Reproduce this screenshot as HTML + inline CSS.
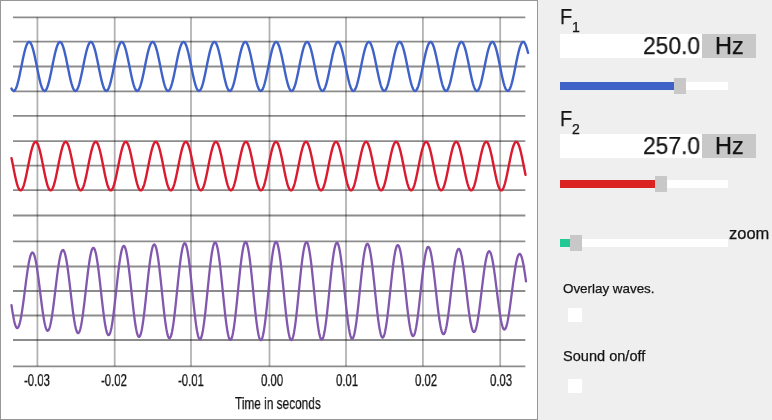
<!DOCTYPE html>
<html><head><meta charset="utf-8">
<style>
html,body{margin:0;padding:0;}
body{width:772px;height:420px;background:#efefef;position:relative;overflow:hidden;font-family:"Liberation Sans",sans-serif;color:#141414;}
#chart{position:absolute;left:0;top:0;width:536px;height:418px;background:#fff;border:1px solid #979797;}
svg{position:absolute;left:0;top:0;}
.t{position:absolute;white-space:nowrap;transform-origin:0 0;will-change:transform;-webkit-text-stroke:0.25px #141414;}
.tl{top:372px;font-size:16px;line-height:18px;transform:scaleX(0.71);}
.inp{position:absolute;left:560px;width:142px;height:24px;background:#fff;}
.hz{position:absolute;left:702px;width:54px;height:24px;background:#c8c8c8;}
.trk{position:absolute;left:560px;width:168px;height:8px;background:#fff;}
.fill{position:absolute;left:0;top:0;height:8px;}
.thumb{position:absolute;width:12px;height:16px;top:-4px;background:#c8c8c8;}
.cb{position:absolute;left:568px;width:14px;height:14px;background:#fff;}
#wrap{position:absolute;left:0;top:0;width:772px;height:420px;filter:blur(0.35px);}
</style></head><body><div id="wrap">
<div id="chart"></div>
<svg width="538" height="420" viewBox="0 0 538 420">
<g stroke="rgba(0,0,0,0.3)" stroke-width="1.8" fill="none"><line x1="37.40" y1="17.3" x2="37.40" y2="366.3"/><line x1="114.70" y1="17.3" x2="114.70" y2="366.3"/><line x1="191.00" y1="17.3" x2="191.00" y2="366.3"/><line x1="269.50" y1="17.3" x2="269.50" y2="366.3"/><line x1="346.00" y1="17.3" x2="346.00" y2="366.3"/><line x1="422.90" y1="17.3" x2="422.90" y2="366.3"/><line x1="500.20" y1="17.3" x2="500.20" y2="366.3"/></g><g stroke="rgba(0,0,0,0.45)" stroke-width="1.8" fill="none"><line x1="13" y1="17.30" x2="525.3" y2="17.30"/><line x1="13" y1="41.70" x2="525.3" y2="41.70"/><line x1="13" y1="66.50" x2="525.3" y2="66.50"/><line x1="13" y1="91.30" x2="525.3" y2="91.30"/><line x1="13" y1="115.90" x2="525.3" y2="115.90"/><line x1="13" y1="141.20" x2="525.3" y2="141.20"/><line x1="13" y1="165.70" x2="525.3" y2="165.70"/><line x1="13" y1="190.20" x2="525.3" y2="190.20"/><line x1="13" y1="215.50" x2="525.3" y2="215.50"/><line x1="13" y1="241.40" x2="525.3" y2="241.40"/><line x1="13" y1="266.50" x2="525.3" y2="266.50"/><line x1="13" y1="291.00" x2="525.3" y2="291.00"/><line x1="13" y1="315.50" x2="525.3" y2="315.50"/><line x1="13" y1="340.00" x2="525.3" y2="340.00"/><line x1="13" y1="366.30" x2="525.3" y2="366.30"/></g>
<path d="M11.5,88.60 L12.0,89.55 L12.5,90.26 L13.0,90.72 L13.5,90.94 L14.0,90.89 L14.5,90.60 L15.0,90.06 L15.5,89.27 L16.0,88.25 L16.5,87.00 L17.0,85.54 L17.5,83.88 L18.0,82.04 L18.5,80.04 L19.0,77.90 L19.5,75.64 L20.0,73.29 L20.5,70.86 L21.0,68.39 L21.5,65.90 L22.0,63.42 L22.5,60.96 L23.0,58.57 L23.5,56.25 L24.0,54.04 L24.5,51.96 L25.0,50.03 L25.5,48.27 L26.0,46.69 L26.5,45.32 L27.0,44.17 L27.5,43.25 L28.0,42.57 L28.5,42.14 L29.0,41.96 L29.5,42.03 L30.0,42.35 L30.5,42.92 L31.0,43.74 L31.5,44.79 L32.0,46.07 L32.5,47.55 L33.0,49.23 L33.5,51.09 L34.0,53.11 L34.5,55.27 L35.0,57.54 L35.5,59.90 L36.0,62.33 L36.5,64.81 L37.0,67.30 L37.5,69.78 L38.0,72.23 L38.5,74.62 L39.0,76.92 L39.5,79.11 L40.0,81.18 L40.5,83.09 L41.0,84.83 L41.5,86.38 L42.0,87.73 L42.5,88.85 L43.0,89.74 L43.5,90.39 L44.0,90.80 L44.5,90.95 L45.0,90.85 L45.5,90.49 L46.0,89.89 L46.5,89.05 L47.0,87.97 L47.5,86.67 L48.0,85.16 L48.5,83.45 L49.0,81.57 L49.5,79.54 L50.0,77.37 L50.5,75.08 L51.0,72.71 L51.5,70.27 L52.0,67.80 L52.5,65.30 L53.0,62.82 L53.5,60.38 L54.0,58.00 L54.5,55.71 L55.0,53.53 L55.5,51.48 L56.0,49.59 L56.5,47.87 L57.0,46.35 L57.5,45.03 L58.0,43.93 L58.5,43.07 L59.0,42.45 L59.5,42.07 L60.0,41.95 L60.5,42.08 L61.0,42.47 L61.5,43.10 L62.0,43.97 L62.5,45.08 L63.0,46.40 L63.5,47.94 L64.0,49.66 L64.5,51.56 L65.0,53.61 L65.5,55.80 L66.0,58.10 L66.5,60.48 L67.0,62.92 L67.5,65.40 L68.0,67.89 L68.5,70.37 L69.0,72.81 L69.5,75.18 L70.0,77.46 L70.5,79.62 L71.0,81.65 L71.5,83.53 L72.0,85.22 L72.5,86.72 L73.0,88.02 L73.5,89.09 L74.0,89.92 L74.5,90.51 L75.0,90.86 L75.5,90.95 L76.0,90.79 L76.5,90.37 L77.0,89.71 L77.5,88.81 L78.0,87.68 L78.5,86.32 L79.0,84.77 L79.5,83.02 L80.0,81.10 L80.5,79.03 L81.0,76.83 L81.5,74.52 L82.0,72.13 L82.5,69.68 L83.0,67.20 L83.5,64.71 L84.0,62.23 L84.5,59.80 L85.0,57.44 L85.5,55.18 L86.0,53.03 L86.5,51.01 L87.0,49.16 L87.5,47.49 L88.0,46.01 L88.5,44.74 L89.0,43.70 L89.5,42.90 L90.0,42.33 L90.5,42.02 L91.0,41.96 L91.5,42.15 L92.0,42.59 L92.5,43.29 L93.0,44.22 L93.5,45.38 L94.0,46.75 L94.5,48.33 L95.0,50.10 L95.5,52.04 L96.0,54.13 L96.5,56.34 L97.0,58.66 L97.5,61.06 L98.0,63.52 L98.5,66.00 L99.0,68.49 L99.5,70.96 L100.0,73.38 L100.5,75.73 L101.0,77.99 L101.5,80.12 L102.0,82.12 L102.5,83.95 L103.0,85.60 L103.5,87.05 L104.0,88.29 L104.5,89.31 L105.0,90.08 L105.5,90.62 L106.0,90.90 L106.5,90.93 L107.0,90.71 L107.5,90.24 L108.0,89.52 L108.5,88.56 L109.0,87.37 L109.5,85.97 L110.0,84.36 L110.5,82.57 L111.0,80.62 L111.5,78.51 L112.0,76.28 L112.5,73.95 L113.0,71.55 L113.5,69.09 L114.0,66.60 L114.5,64.11 L115.0,61.65 L115.5,59.23 L116.0,56.89 L116.5,54.65 L117.0,52.53 L117.5,50.55 L118.0,48.74 L118.5,47.11 L119.0,45.69 L119.5,44.47 L120.0,43.49 L120.5,42.74 L121.0,42.23 L121.5,41.98 L122.0,41.98 L122.5,42.23 L123.0,42.74 L123.5,43.49 L124.0,44.47 L124.5,45.69 L125.0,47.11 L125.5,48.74 L126.0,50.55 L126.5,52.53 L127.0,54.65 L127.5,56.89 L128.0,59.23 L128.5,61.65 L129.0,64.11 L129.5,66.60 L130.0,69.09 L130.5,71.55 L131.0,73.95 L131.5,76.28 L132.0,78.51 L132.5,80.62 L133.0,82.57 L133.5,84.36 L134.0,85.97 L134.5,87.37 L135.0,88.56 L135.5,89.52 L136.0,90.24 L136.5,90.71 L137.0,90.93 L137.5,90.90 L138.0,90.62 L138.5,90.08 L139.0,89.31 L139.5,88.29 L140.0,87.05 L140.5,85.60 L141.0,83.95 L141.5,82.12 L142.0,80.12 L142.5,77.99 L143.0,75.73 L143.5,73.38 L144.0,70.96 L144.5,68.49 L145.0,66.00 L145.5,63.52 L146.0,61.06 L146.5,58.66 L147.0,56.34 L147.5,54.13 L148.0,52.04 L148.5,50.10 L149.0,48.33 L149.5,46.75 L150.0,45.38 L150.5,44.22 L151.0,43.29 L151.5,42.59 L152.0,42.15 L152.5,41.96 L153.0,42.02 L153.5,42.33 L154.0,42.90 L154.5,43.70 L155.0,44.74 L155.5,46.01 L156.0,47.49 L156.5,49.16 L157.0,51.01 L157.5,53.03 L158.0,55.18 L158.5,57.44 L159.0,59.80 L159.5,62.23 L160.0,64.71 L160.5,67.20 L161.0,69.68 L161.5,72.13 L162.0,74.52 L162.5,76.83 L163.0,79.03 L163.5,81.10 L164.0,83.02 L164.5,84.77 L165.0,86.32 L165.5,87.68 L166.0,88.81 L166.5,89.71 L167.0,90.37 L167.5,90.79 L168.0,90.95 L168.5,90.86 L169.0,90.51 L169.5,89.92 L170.0,89.09 L170.5,88.02 L171.0,86.72 L171.5,85.22 L172.0,83.53 L172.5,81.65 L173.0,79.62 L173.5,77.46 L174.0,75.18 L174.5,72.81 L175.0,70.37 L175.5,67.89 L176.0,65.40 L176.5,62.92 L177.0,60.48 L177.5,58.10 L178.0,55.80 L178.5,53.61 L179.0,51.56 L179.5,49.66 L180.0,47.94 L180.5,46.40 L181.0,45.08 L181.5,43.97 L182.0,43.10 L182.5,42.47 L183.0,42.08 L183.5,41.95 L184.0,42.07 L184.5,42.45 L185.0,43.07 L185.5,43.93 L186.0,45.03 L186.5,46.35 L187.0,47.87 L187.5,49.59 L188.0,51.48 L188.5,53.53 L189.0,55.71 L189.5,58.00 L190.0,60.38 L190.5,62.82 L191.0,65.30 L191.5,67.80 L192.0,70.27 L192.5,72.71 L193.0,75.08 L193.5,77.37 L194.0,79.54 L194.5,81.57 L195.0,83.45 L195.5,85.16 L196.0,86.67 L196.5,87.97 L197.0,89.05 L197.5,89.89 L198.0,90.49 L198.5,90.85 L199.0,90.95 L199.5,90.80 L200.0,90.39 L200.5,89.74 L201.0,88.85 L201.5,87.73 L202.0,86.38 L202.5,84.83 L203.0,83.09 L203.5,81.18 L204.0,79.11 L204.5,76.92 L205.0,74.62 L205.5,72.23 L206.0,69.78 L206.5,67.30 L207.0,64.81 L207.5,62.33 L208.0,59.90 L208.5,57.54 L209.0,55.27 L209.5,53.11 L210.0,51.09 L210.5,49.23 L211.0,47.55 L211.5,46.07 L212.0,44.79 L212.5,43.74 L213.0,42.92 L213.5,42.35 L214.0,42.03 L214.5,41.96 L215.0,42.14 L215.5,42.57 L216.0,43.25 L216.5,44.17 L217.0,45.32 L217.5,46.69 L218.0,48.27 L218.5,50.03 L219.0,51.96 L219.5,54.04 L220.0,56.25 L220.5,58.57 L221.0,60.96 L221.5,63.42 L222.0,65.90 L222.5,68.39 L223.0,70.86 L223.5,73.29 L224.0,75.64 L224.5,77.90 L225.0,80.04 L225.5,82.04 L226.0,83.88 L226.5,85.54 L227.0,87.00 L227.5,88.25 L228.0,89.27 L228.5,90.06 L229.0,90.60 L229.5,90.89 L230.0,90.94 L230.5,90.72 L231.0,90.26 L231.5,89.55 L232.0,88.60 L232.5,87.42 L233.0,86.03 L233.5,84.43 L234.0,82.65 L234.5,80.70 L235.0,78.60 L235.5,76.38 L236.0,74.05 L236.5,71.64 L237.0,69.19 L237.5,66.70 L238.0,64.21 L238.5,61.74 L239.0,59.33 L239.5,56.98 L240.0,54.74 L240.5,52.61 L241.0,50.63 L241.5,48.81 L242.0,47.18 L242.5,45.74 L243.0,44.52 L243.5,43.52 L244.0,42.76 L244.5,42.25 L245.0,41.99 L245.5,41.98 L246.0,42.22 L246.5,42.71 L247.0,43.45 L247.5,44.43 L248.0,45.63 L248.5,47.05 L249.0,48.67 L249.5,50.48 L250.0,52.45 L250.5,54.56 L251.0,56.80 L251.5,59.14 L252.0,61.55 L252.5,64.01 L253.0,66.50 L253.5,68.99 L254.0,71.45 L254.5,73.86 L255.0,76.19 L255.5,78.43 L256.0,80.53 L256.5,82.50 L257.0,84.29 L257.5,85.91 L258.0,87.32 L258.5,88.51 L259.0,89.48 L259.5,90.21 L260.0,90.69 L260.5,90.93 L261.0,90.91 L261.5,90.63 L262.0,90.11 L262.5,89.34 L263.0,88.34 L263.5,87.11 L264.0,85.66 L264.5,84.02 L265.0,82.19 L265.5,80.21 L266.0,78.08 L266.5,75.83 L267.0,73.48 L267.5,71.06 L268.0,68.59 L268.5,66.10 L269.0,63.61 L269.5,61.16 L270.0,58.76 L270.5,56.43 L271.0,54.21 L271.5,52.12 L272.0,50.18 L272.5,48.40 L273.0,46.81 L273.5,45.43 L274.0,44.26 L274.5,43.32 L275.0,42.62 L275.5,42.16 L276.0,41.96 L276.5,42.01 L277.0,42.32 L277.5,42.87 L278.0,43.67 L278.5,44.70 L279.0,45.96 L279.5,47.42 L280.0,49.09 L280.5,50.94 L281.0,52.94 L281.5,55.09 L282.0,57.35 L282.5,59.71 L283.0,62.14 L283.5,64.61 L284.0,67.10 L284.5,69.58 L285.0,72.03 L285.5,74.43 L286.0,76.74 L286.5,78.94 L287.0,81.02 L287.5,82.94 L288.0,84.70 L288.5,86.27 L289.0,87.63 L289.5,88.77 L290.0,89.68 L290.5,90.35 L291.0,90.77 L291.5,90.95 L292.0,90.86 L292.5,90.53 L293.0,89.95 L293.5,89.12 L294.0,88.06 L294.5,86.78 L295.0,85.29 L295.5,83.60 L296.0,81.73 L296.5,79.71 L297.0,77.55 L297.5,75.27 L298.0,72.90 L298.5,70.47 L299.0,67.99 L299.5,65.50 L300.0,63.02 L300.5,60.58 L301.0,58.19 L301.5,55.89 L302.0,53.70 L302.5,51.64 L303.0,49.74 L303.5,48.00 L304.0,46.46 L304.5,45.13 L305.0,44.01 L305.5,43.13 L306.0,42.49 L306.5,42.09 L307.0,41.95 L307.5,42.06 L308.0,42.43 L308.5,43.04 L309.0,43.89 L309.5,44.98 L310.0,46.29 L310.5,47.81 L311.0,49.52 L311.5,51.40 L312.0,53.45 L312.5,55.62 L313.0,57.91 L313.5,60.29 L314.0,62.73 L314.5,65.20 L315.0,67.70 L315.5,70.17 L316.0,72.61 L316.5,74.99 L317.0,77.28 L317.5,79.45 L318.0,81.50 L318.5,83.38 L319.0,85.09 L319.5,86.61 L320.0,87.92 L320.5,89.01 L321.0,89.86 L321.5,90.47 L322.0,90.84 L322.5,90.95 L323.0,90.81 L323.5,90.41 L324.0,89.77 L324.5,88.89 L325.0,87.77 L325.5,86.44 L326.0,84.90 L326.5,83.16 L327.0,81.26 L327.5,79.20 L328.0,77.01 L328.5,74.71 L329.0,72.32 L329.5,69.88 L330.0,67.40 L330.5,64.91 L331.0,62.43 L331.5,60.00 L332.0,57.63 L332.5,55.35 L333.0,53.19 L333.5,51.17 L334.0,49.30 L334.5,47.61 L335.0,46.12 L335.5,44.84 L336.0,43.78 L336.5,42.95 L337.0,42.37 L337.5,42.04 L338.0,41.95 L338.5,42.13 L339.0,42.55 L339.5,43.22 L340.0,44.13 L340.5,45.27 L341.0,46.63 L341.5,48.20 L342.0,49.96 L342.5,51.88 L343.0,53.96 L343.5,56.16 L344.0,58.47 L344.5,60.87 L345.0,63.32 L345.5,65.80 L346.0,68.29 L346.5,70.76 L347.0,73.19 L347.5,75.55 L348.0,77.81 L348.5,79.96 L349.0,81.96 L349.5,83.81 L350.0,85.48 L350.5,86.94 L351.0,88.20 L351.5,89.23 L352.0,90.03 L352.5,90.58 L353.0,90.89 L353.5,90.94 L354.0,90.74 L354.5,90.28 L355.0,89.58 L355.5,88.64 L356.0,87.47 L356.5,86.09 L357.0,84.50 L357.5,82.72 L358.0,80.78 L358.5,78.69 L359.0,76.47 L359.5,74.14 L360.0,71.74 L360.5,69.29 L361.0,66.80 L361.5,64.31 L362.0,61.84 L362.5,59.42 L363.0,57.07 L363.5,54.82 L364.0,52.69 L364.5,50.71 L365.0,48.88 L365.5,47.24 L366.0,45.79 L366.5,44.56 L367.0,43.56 L367.5,42.79 L368.0,42.27 L368.5,41.99 L369.0,41.97 L369.5,42.21 L370.0,42.69 L370.5,43.42 L371.0,44.39 L371.5,45.58 L372.0,46.99 L372.5,48.61 L373.0,50.40 L373.5,52.37 L374.0,54.47 L374.5,56.71 L375.0,59.04 L375.5,61.45 L376.0,63.91 L376.5,66.40 L377.0,68.89 L377.5,71.35 L378.0,73.76 L378.5,76.10 L379.0,78.34 L379.5,80.45 L380.0,82.42 L380.5,84.23 L381.0,85.85 L381.5,87.27 L382.0,88.47 L382.5,89.45 L383.0,90.19 L383.5,90.68 L384.0,90.92 L384.5,90.91 L385.0,90.65 L385.5,90.14 L386.0,89.38 L386.5,88.38 L387.0,87.16 L387.5,85.72 L388.0,84.09 L388.5,82.27 L389.0,80.29 L389.5,78.16 L390.0,75.92 L390.5,73.57 L391.0,71.16 L391.5,68.69 L392.0,66.20 L392.5,63.71 L393.0,61.26 L393.5,58.85 L394.0,56.52 L394.5,54.30 L395.0,52.20 L395.5,50.25 L396.0,48.47 L396.5,46.87 L397.0,45.48 L397.5,44.30 L398.0,43.35 L398.5,42.64 L399.0,42.18 L399.5,41.96 L400.0,42.01 L400.5,42.30 L401.0,42.84 L401.5,43.63 L402.0,44.65 L402.5,45.90 L403.0,47.36 L403.5,49.02 L404.0,50.86 L404.5,52.86 L405.0,55.00 L405.5,57.26 L406.0,59.61 L406.5,62.04 L407.0,64.51 L407.5,67.00 L408.0,69.48 L408.5,71.94 L409.0,74.33 L409.5,76.65 L410.0,78.86 L410.5,80.94 L411.0,82.87 L411.5,84.63 L412.0,86.21 L412.5,87.58 L413.0,88.73 L413.5,89.65 L414.0,90.33 L414.5,90.76 L415.0,90.94 L415.5,90.87 L416.0,90.55 L416.5,89.98 L417.0,89.16 L417.5,88.11 L418.0,86.83 L418.5,85.35 L419.0,83.67 L419.5,81.81 L420.0,79.79 L420.5,77.63 L421.0,75.36 L421.5,73.00 L422.0,70.57 L422.5,68.09 L423.0,65.60 L423.5,63.12 L424.0,60.67 L424.5,58.28 L425.0,55.98 L425.5,53.79 L426.0,51.72 L426.5,49.81 L427.0,48.07 L427.5,46.52 L428.0,45.17 L428.5,44.05 L429.0,43.16 L429.5,42.51 L430.0,42.10 L430.5,41.95 L431.0,42.05 L431.5,42.41 L432.0,43.01 L432.5,43.85 L433.0,44.93 L433.5,46.23 L434.0,47.74 L434.5,49.45 L435.0,51.33 L435.5,53.36 L436.0,55.53 L436.5,57.82 L437.0,60.19 L437.5,62.63 L438.0,65.10 L438.5,67.60 L439.0,70.08 L439.5,72.52 L440.0,74.90 L440.5,77.19 L441.0,79.37 L441.5,81.42 L442.0,83.31 L442.5,85.03 L443.0,86.55 L443.5,87.87 L444.0,88.97 L444.5,89.83 L445.0,90.45 L445.5,90.83 L446.0,90.95 L446.5,90.82 L447.0,90.43 L447.5,89.80 L448.0,88.93 L448.5,87.82 L449.0,86.50 L449.5,84.96 L450.0,83.24 L450.5,81.34 L451.0,79.29 L451.5,77.10 L452.0,74.80 L452.5,72.42 L453.0,69.98 L453.5,67.50 L454.0,65.01 L454.5,62.53 L455.0,60.09 L455.5,57.72 L456.0,55.44 L456.5,53.28 L457.0,51.25 L457.5,49.37 L458.0,47.68 L458.5,46.18 L459.0,44.88 L459.5,43.81 L460.0,42.98 L460.5,42.39 L461.0,42.04 L461.5,41.95 L462.0,42.11 L462.5,42.53 L463.0,43.19 L463.5,44.09 L464.0,45.22 L464.5,46.58 L465.0,48.13 L465.5,49.88 L466.0,51.80 L466.5,53.87 L467.0,56.07 L467.5,58.38 L468.0,60.77 L468.5,63.22 L469.0,65.70 L469.5,68.19 L470.0,70.67 L470.5,73.10 L471.0,75.46 L471.5,77.72 L472.0,79.87 L472.5,81.89 L473.0,83.74 L473.5,85.41 L474.0,86.89 L474.5,88.16 L475.0,89.20 L475.5,90.00 L476.0,90.57 L476.5,90.88 L477.0,90.94 L477.5,90.75 L478.0,90.31 L478.5,89.61 L479.0,88.68 L479.5,87.52 L480.0,86.15 L480.5,84.57 L481.0,82.80 L481.5,80.86 L482.0,78.77 L482.5,76.56 L483.0,74.24 L483.5,71.84 L484.0,69.38 L484.5,66.90 L485.0,64.41 L485.5,61.94 L486.0,59.52 L486.5,57.17 L487.0,54.91 L487.5,52.78 L488.0,50.78 L488.5,48.95 L489.0,47.30 L489.5,45.85 L490.0,44.61 L490.5,43.59 L491.0,42.82 L491.5,42.28 L492.0,42.00 L492.5,41.97 L493.0,42.19 L493.5,42.66 L494.0,43.38 L494.5,44.34 L495.0,45.53 L495.5,46.93 L496.0,48.54 L496.5,50.33 L497.0,52.28 L497.5,54.39 L498.0,56.62 L498.5,58.95 L499.0,61.35 L499.5,63.81 L500.0,66.30 L500.5,68.79 L501.0,71.25 L501.5,73.67 L502.0,76.01 L502.5,78.25 L503.0,80.37 L503.5,82.35 L504.0,84.16 L504.5,85.79 L505.0,87.21 L505.5,88.43 L506.0,89.41 L506.5,90.16 L507.0,90.67 L507.5,90.92 L508.0,90.92 L508.5,90.67 L509.0,90.16 L509.5,89.41 L510.0,88.43 L510.5,87.21 L511.0,85.79 L511.5,84.16 L512.0,82.35 L512.5,80.37 L513.0,78.25 L513.5,76.01 L514.0,73.67 L514.5,71.25 L515.0,68.79 L515.5,66.30 L516.0,63.81 L516.5,61.35 L517.0,58.95 L517.5,56.62 L518.0,54.39 L518.5,52.28 L519.0,50.33 L519.5,48.54 L520.0,46.93 L520.5,45.53 L521.0,44.34 L521.5,43.38 L522.0,42.66 L522.5,42.19 L523.0,41.97 L523.5,42.00 L524.0,42.28 L524.5,42.82 L525.0,43.59 L525.5,44.61 L526.0,45.85 L526.5,47.30 L527.0,48.95 L527.5,50.78 L528.0,52.78" stroke="#3f62c8" stroke-width="2.4" fill="none" stroke-linecap="round" stroke-linejoin="round"/>
<path d="M11.5,158.12 L12.0,160.56 L12.5,163.06 L13.0,165.60 L13.5,168.13 L14.0,170.65 L14.5,173.12 L15.0,175.51 L15.5,177.80 L16.0,179.96 L16.5,181.96 L17.0,183.80 L17.5,185.44 L18.0,186.87 L18.5,188.07 L19.0,189.04 L19.5,189.75 L20.0,190.20 L20.5,190.39 L21.0,190.32 L21.5,189.98 L22.0,189.38 L22.5,188.52 L23.0,187.42 L23.5,186.09 L24.0,184.54 L24.5,182.79 L25.0,180.85 L25.5,178.75 L26.0,176.52 L26.5,174.17 L27.0,171.73 L27.5,169.24 L28.0,166.70 L28.5,164.16 L29.0,161.65 L29.5,159.18 L30.0,156.78 L30.5,154.49 L31.0,152.33 L31.5,150.31 L32.0,148.47 L32.5,146.82 L33.0,145.38 L33.5,144.17 L34.0,143.20 L34.5,142.47 L35.0,142.01 L35.5,141.81 L36.0,141.87 L36.5,142.20 L37.0,142.79 L37.5,143.64 L38.0,144.73 L38.5,146.05 L39.0,147.60 L39.5,149.34 L40.0,151.27 L40.5,153.36 L41.0,155.59 L41.5,157.94 L42.0,160.37 L42.5,162.87 L43.0,165.40 L43.5,167.94 L44.0,170.46 L44.5,172.93 L45.0,175.33 L45.5,177.62 L46.0,179.79 L46.5,181.81 L47.0,183.66 L47.5,185.32 L48.0,186.77 L48.5,187.99 L49.0,188.97 L49.5,189.70 L50.0,190.18 L50.5,190.39 L51.0,190.33 L51.5,190.02 L52.0,189.43 L52.5,188.60 L53.0,187.52 L53.5,186.20 L54.0,184.67 L54.5,182.93 L55.0,181.01 L55.5,178.92 L56.0,176.70 L56.5,174.36 L57.0,171.93 L57.5,169.43 L58.0,166.90 L58.5,164.36 L59.0,161.84 L59.5,159.37 L60.0,156.97 L60.5,154.66 L61.0,152.49 L61.5,150.46 L62.0,148.61 L62.5,146.94 L63.0,145.48 L63.5,144.25 L64.0,143.26 L64.5,142.52 L65.0,142.04 L65.5,141.81 L66.0,141.86 L66.5,142.17 L67.0,142.74 L67.5,143.56 L68.0,144.64 L68.5,145.94 L69.0,147.47 L69.5,149.20 L70.0,151.11 L70.5,153.19 L71.0,155.41 L71.5,157.75 L72.0,160.18 L72.5,162.67 L73.0,165.20 L73.5,167.74 L74.0,170.26 L74.5,172.74 L75.0,175.14 L75.5,177.45 L76.0,179.63 L76.5,181.66 L77.0,183.53 L77.5,185.20 L78.0,186.66 L78.5,187.90 L79.0,188.90 L79.5,189.66 L80.0,190.15 L80.5,190.38 L81.0,190.35 L81.5,190.05 L82.0,189.49 L82.5,188.67 L83.0,187.61 L83.5,186.31 L84.0,184.79 L84.5,183.07 L85.0,181.16 L85.5,179.09 L86.0,176.88 L86.5,174.54 L87.0,172.12 L87.5,169.63 L88.0,167.10 L88.5,164.56 L89.0,162.04 L89.5,159.56 L90.0,157.15 L90.5,154.84 L91.0,152.65 L91.5,150.61 L92.0,148.74 L92.5,147.06 L93.0,145.59 L93.5,144.34 L94.0,143.33 L94.5,142.57 L95.0,142.06 L95.5,141.82 L96.0,141.85 L96.5,142.13 L97.0,142.68 L97.5,143.49 L98.0,144.54 L98.5,145.83 L99.0,147.34 L99.5,149.06 L100.0,150.96 L100.5,153.03 L101.0,155.24 L101.5,157.56 L102.0,159.99 L102.5,162.47 L103.0,165.00 L103.5,167.54 L104.0,170.07 L104.5,172.55 L105.0,174.96 L105.5,177.27 L106.0,179.46 L106.5,181.51 L107.0,183.39 L107.5,185.08 L108.0,186.56 L108.5,187.81 L109.0,188.83 L109.5,189.61 L110.0,190.12 L110.5,190.37 L111.0,190.36 L111.5,190.08 L112.0,189.54 L112.5,188.75 L113.0,187.70 L113.5,186.42 L114.0,184.92 L114.5,183.21 L115.0,181.32 L115.5,179.26 L116.0,177.05 L116.5,174.73 L117.0,172.31 L117.5,169.82 L118.0,167.30 L118.5,164.76 L119.0,162.23 L119.5,159.75 L120.0,157.33 L120.5,155.02 L121.0,152.82 L121.5,150.77 L122.0,148.88 L122.5,147.19 L123.0,145.70 L123.5,144.43 L124.0,143.40 L124.5,142.62 L125.0,142.09 L125.5,141.83 L126.0,141.83 L126.5,142.10 L127.0,142.63 L127.5,143.42 L128.0,144.45 L128.5,145.72 L129.0,147.22 L129.5,148.92 L130.0,150.80 L130.5,152.86 L131.0,155.06 L131.5,157.38 L132.0,159.79 L132.5,162.28 L133.0,164.80 L133.5,167.35 L134.0,169.87 L134.5,172.36 L135.0,174.77 L135.5,177.10 L136.0,179.30 L136.5,181.36 L137.0,183.25 L137.5,184.95 L138.0,186.45 L138.5,187.72 L139.0,188.76 L139.5,189.55 L140.0,190.09 L140.5,190.36 L141.0,190.37 L141.5,190.11 L142.0,189.59 L142.5,188.82 L143.0,187.79 L143.5,186.53 L144.0,185.04 L144.5,183.35 L145.0,181.47 L145.5,179.42 L146.0,177.23 L146.5,174.91 L147.0,172.50 L147.5,170.02 L148.0,167.49 L148.5,164.95 L149.0,162.43 L149.5,159.94 L150.0,157.52 L150.5,155.19 L151.0,152.98 L151.5,150.92 L152.0,149.02 L152.5,147.31 L153.0,145.81 L153.5,144.52 L154.0,143.47 L154.5,142.67 L155.0,142.13 L155.5,141.84 L156.0,141.82 L156.5,142.07 L157.0,142.58 L157.5,143.35 L158.0,144.36 L158.5,145.62 L159.0,147.09 L159.5,148.78 L160.0,150.65 L160.5,152.69 L161.0,154.88 L161.5,157.19 L162.0,159.60 L162.5,162.08 L163.0,164.61 L163.5,167.15 L164.0,169.68 L164.5,172.17 L165.0,174.59 L165.5,176.92 L166.0,179.13 L166.5,181.20 L167.0,183.11 L167.5,184.83 L168.0,186.34 L168.5,187.63 L169.0,188.69 L169.5,189.50 L170.0,190.06 L170.5,190.35 L171.0,190.38 L171.5,190.14 L172.0,189.64 L172.5,188.89 L173.0,187.88 L173.5,186.64 L174.0,185.17 L174.5,183.49 L175.0,181.62 L175.5,179.59 L176.0,177.40 L176.5,175.10 L177.0,172.69 L177.5,170.21 L178.0,167.69 L178.5,165.15 L179.0,162.62 L179.5,160.13 L180.0,157.70 L180.5,155.37 L181.0,153.15 L181.5,151.08 L182.0,149.16 L182.5,147.44 L183.0,145.91 L183.5,144.61 L184.0,143.55 L184.5,142.72 L185.0,142.16 L185.5,141.86 L186.0,141.82 L186.5,142.04 L187.0,142.53 L187.5,143.28 L188.0,144.28 L188.5,145.51 L189.0,146.97 L189.5,148.64 L190.0,150.50 L190.5,152.53 L191.0,154.71 L191.5,157.01 L192.0,159.41 L192.5,161.89 L193.0,164.41 L193.5,166.95 L194.0,169.48 L194.5,171.97 L195.0,174.40 L195.5,176.74 L196.0,178.96 L196.5,181.05 L197.0,182.97 L197.5,184.70 L198.0,186.23 L198.5,187.54 L199.0,188.62 L199.5,189.45 L200.0,190.02 L200.5,190.34 L201.0,190.39 L201.5,190.17 L202.0,189.69 L202.5,188.95 L203.0,187.97 L203.5,186.74 L204.0,185.29 L204.5,183.63 L205.0,181.78 L205.5,179.75 L206.0,177.58 L206.5,175.28 L207.0,172.88 L207.5,170.41 L208.0,167.89 L208.5,165.35 L209.0,162.82 L209.5,160.32 L210.0,157.89 L210.5,155.55 L211.0,153.32 L211.5,151.23 L212.0,149.31 L212.5,147.56 L213.0,146.03 L213.5,144.71 L214.0,143.62 L214.5,142.78 L215.0,142.19 L215.5,141.87 L216.0,141.81 L216.5,142.02 L217.0,142.49 L217.5,143.21 L218.0,144.19 L218.5,145.41 L219.0,146.85 L219.5,148.50 L220.0,150.35 L220.5,152.37 L221.0,154.53 L221.5,156.83 L222.0,159.22 L222.5,161.69 L223.0,164.21 L223.5,166.75 L224.0,169.28 L224.5,171.78 L225.0,174.22 L225.5,176.56 L226.0,178.80 L226.5,180.89 L227.0,182.82 L227.5,184.57 L228.0,186.12 L228.5,187.45 L229.0,188.54 L229.5,189.39 L230.0,189.99 L230.5,190.32 L231.0,190.39 L231.5,190.20 L232.0,189.74 L232.5,189.02 L233.0,188.05 L233.5,186.85 L234.0,185.41 L234.5,183.77 L235.0,181.93 L235.5,179.92 L236.0,177.75 L236.5,175.46 L237.0,173.07 L237.5,170.60 L238.0,168.09 L238.5,165.55 L239.0,163.01 L239.5,160.51 L240.0,158.08 L240.5,155.73 L241.0,153.49 L241.5,151.39 L242.0,149.45 L242.5,147.69 L243.0,146.14 L243.5,144.80 L244.0,143.70 L244.5,142.84 L245.0,142.23 L245.5,141.89 L246.0,141.81 L246.5,141.99 L247.0,142.44 L247.5,143.15 L248.0,144.11 L248.5,145.30 L249.0,146.73 L249.5,148.37 L250.0,150.20 L250.5,152.20 L251.0,154.36 L251.5,156.65 L252.0,159.03 L252.5,161.50 L253.0,164.02 L253.5,166.55 L254.0,169.09 L254.5,171.59 L255.0,174.03 L255.5,176.39 L256.0,178.63 L256.5,180.73 L257.0,182.68 L257.5,184.44 L258.0,186.01 L258.5,187.35 L259.0,188.47 L259.5,189.34 L260.0,189.95 L260.5,190.31 L261.0,190.40 L261.5,190.22 L262.0,189.78 L262.5,189.09 L263.0,188.14 L263.5,186.95 L264.0,185.53 L264.5,183.90 L265.0,182.08 L265.5,180.08 L266.0,177.93 L266.5,175.65 L267.0,173.26 L267.5,170.80 L268.0,168.28 L268.5,165.74 L269.0,163.21 L269.5,160.71 L270.0,158.26 L270.5,155.90 L271.0,153.66 L271.5,151.55 L272.0,149.59 L272.5,147.82 L273.0,146.25 L273.5,144.90 L274.0,143.77 L274.5,142.89 L275.0,142.27 L275.5,141.90 L276.0,141.80 L276.5,141.97 L277.0,142.40 L277.5,143.08 L278.0,144.02 L278.5,145.20 L279.0,146.61 L279.5,148.23 L280.0,150.05 L280.5,152.04 L281.0,154.19 L281.5,156.46 L282.0,158.85 L282.5,161.31 L283.0,163.82 L283.5,166.36 L284.0,168.89 L284.5,171.40 L285.0,173.84 L285.5,176.21 L286.0,178.46 L286.5,180.57 L287.0,182.53 L287.5,184.31 L288.0,185.89 L288.5,187.26 L289.0,188.39 L289.5,189.28 L290.0,189.91 L290.5,190.29 L291.0,190.40 L291.5,190.24 L292.0,189.83 L292.5,189.15 L293.0,188.22 L293.5,187.05 L294.0,185.65 L294.5,184.03 L295.0,182.22 L295.5,180.24 L296.0,178.10 L296.5,175.83 L297.0,173.45 L297.5,170.99 L298.0,168.48 L298.5,165.94 L299.0,163.41 L299.5,160.90 L300.0,158.45 L300.5,156.08 L301.0,153.83 L301.5,151.71 L302.0,149.74 L302.5,147.95 L303.0,146.37 L303.5,144.99 L304.0,143.85 L304.5,142.95 L305.0,142.31 L305.5,141.92 L306.0,141.80 L306.5,141.94 L307.0,142.35 L307.5,143.02 L308.0,143.94 L308.5,145.10 L309.0,146.49 L309.5,148.10 L310.0,149.90 L310.5,151.88 L311.0,154.02 L311.5,156.28 L312.0,158.66 L312.5,161.11 L313.0,163.62 L313.5,166.16 L314.0,168.70 L314.5,171.20 L315.0,173.66 L315.5,176.03 L316.0,178.29 L316.5,180.42 L317.0,182.39 L317.5,184.18 L318.0,185.78 L318.5,187.16 L319.0,188.31 L319.5,189.22 L320.0,189.87 L320.5,190.27 L321.0,190.40 L321.5,190.27 L322.0,189.87 L322.5,189.21 L323.0,188.30 L323.5,187.15 L324.0,185.77 L324.5,184.17 L325.0,182.37 L325.5,180.40 L326.0,178.27 L326.5,176.01 L327.0,173.64 L327.5,171.18 L328.0,168.68 L328.5,166.14 L329.0,163.60 L329.5,161.09 L330.0,158.64 L330.5,156.26 L331.0,154.00 L331.5,151.87 L332.0,149.89 L332.5,148.09 L333.0,146.48 L333.5,145.09 L334.0,143.93 L334.5,143.01 L335.0,142.35 L335.5,141.94 L336.0,141.80 L336.5,141.92 L337.0,142.31 L337.5,142.96 L338.0,143.86 L338.5,145.00 L339.0,146.38 L339.5,147.97 L340.0,149.75 L340.5,151.72 L341.0,153.84 L341.5,156.10 L342.0,158.47 L342.5,160.92 L343.0,163.43 L343.5,165.96 L344.0,168.50 L344.5,171.01 L345.0,173.47 L345.5,175.84 L346.0,178.12 L346.5,180.25 L347.0,182.24 L347.5,184.05 L348.0,185.66 L348.5,187.06 L349.0,188.23 L349.5,189.15 L350.0,189.83 L350.5,190.25 L351.0,190.40 L351.5,190.29 L352.0,189.91 L352.5,189.27 L353.0,188.38 L353.5,187.25 L354.0,185.88 L354.5,184.30 L355.0,182.52 L355.5,180.56 L356.0,178.44 L356.5,176.19 L357.0,173.83 L357.5,171.38 L358.0,168.87 L358.5,166.34 L359.0,163.80 L359.5,161.29 L360.0,158.83 L360.5,156.45 L361.0,154.17 L361.5,152.03 L362.0,150.03 L362.5,148.22 L363.0,146.60 L363.5,145.19 L364.0,144.01 L364.5,143.08 L365.0,142.39 L365.5,141.96 L366.0,141.80 L366.5,141.90 L367.0,142.27 L367.5,142.90 L368.0,143.78 L368.5,144.91 L369.0,146.26 L369.5,147.84 L370.0,149.61 L370.5,151.56 L371.0,153.67 L371.5,155.92 L372.0,158.28 L372.5,160.73 L373.0,163.23 L373.5,165.76 L374.0,168.30 L374.5,170.82 L375.0,173.28 L375.5,175.66 L376.0,177.94 L376.5,180.09 L377.0,182.09 L377.5,183.91 L378.0,185.54 L378.5,186.96 L379.0,188.14 L379.5,189.09 L380.0,189.79 L380.5,190.22 L381.0,190.40 L381.5,190.30 L382.0,189.95 L382.5,189.33 L383.0,188.46 L383.5,187.34 L384.0,185.99 L384.5,184.43 L385.0,182.66 L385.5,180.72 L386.0,178.61 L386.5,176.37 L387.0,174.01 L387.5,171.57 L388.0,169.07 L388.5,166.54 L389.0,164.00 L389.5,161.48 L390.0,159.02 L390.5,156.63 L391.0,154.34 L391.5,152.19 L392.0,150.18 L392.5,148.35 L393.0,146.72 L393.5,145.29 L394.0,144.10 L394.5,143.14 L395.0,142.44 L395.5,141.99 L396.0,141.80 L396.5,141.89 L397.0,142.23 L397.5,142.84 L398.0,143.70 L398.5,144.81 L399.0,146.15 L399.5,147.71 L400.0,149.46 L400.5,151.40 L401.0,153.50 L401.5,155.74 L402.0,158.09 L402.5,160.53 L403.0,163.03 L403.5,165.57 L404.0,168.10 L404.5,170.62 L405.0,173.09 L405.5,175.48 L406.0,177.77 L406.5,179.93 L407.0,181.94 L407.5,183.78 L408.0,185.42 L408.5,186.86 L409.0,188.06 L409.5,189.03 L410.0,189.74 L410.5,190.20 L411.0,190.39 L411.5,190.32 L412.0,189.98 L412.5,189.39 L413.0,188.54 L413.5,187.44 L414.0,186.11 L414.5,184.56 L415.0,182.81 L415.5,180.87 L416.0,178.78 L416.5,176.55 L417.0,174.20 L417.5,171.76 L418.0,169.27 L418.5,166.73 L419.0,164.19 L419.5,161.68 L420.0,159.20 L420.5,156.81 L421.0,154.52 L421.5,152.35 L422.0,150.33 L422.5,148.49 L423.0,146.84 L423.5,145.40 L424.0,144.18 L424.5,143.21 L425.0,142.48 L425.5,142.01 L426.0,141.81 L426.5,141.87 L427.0,142.20 L427.5,142.78 L428.0,143.63 L428.5,144.71 L429.0,146.04 L429.5,147.58 L430.0,149.32 L430.5,151.25 L431.0,153.34 L431.5,155.56 L432.0,157.91 L432.5,160.34 L433.0,162.84 L433.5,165.37 L434.0,167.91 L434.5,170.43 L435.0,172.90 L435.5,175.30 L436.0,177.60 L436.5,179.77 L437.0,181.79 L437.5,183.64 L438.0,185.30 L438.5,186.75 L439.0,187.98 L439.5,188.96 L440.0,189.70 L440.5,190.17 L441.0,190.39 L441.5,190.34 L442.0,190.02 L442.5,189.44 L443.0,188.61 L443.5,187.53 L444.0,186.22 L444.5,184.69 L445.0,182.95 L445.5,181.03 L446.0,178.95 L446.5,176.72 L447.0,174.39 L447.5,171.96 L448.0,169.46 L448.5,166.93 L449.0,164.39 L449.5,161.87 L450.0,159.39 L450.5,156.99 L451.0,154.69 L451.5,152.51 L452.0,150.48 L452.5,148.63 L453.0,146.96 L453.5,145.50 L454.0,144.27 L454.5,143.27 L455.0,142.53 L455.5,142.04 L456.0,141.82 L456.5,141.86 L457.0,142.16 L457.5,142.73 L458.0,143.55 L458.5,144.62 L459.0,145.93 L459.5,147.45 L460.0,149.18 L460.5,151.09 L461.0,153.17 L461.5,155.39 L462.0,157.72 L462.5,160.15 L463.0,162.64 L463.5,165.17 L464.0,167.71 L464.5,170.23 L465.0,172.71 L465.5,175.12 L466.0,177.42 L466.5,179.60 L467.0,181.64 L467.5,183.50 L468.0,185.18 L468.5,186.65 L469.0,187.89 L469.5,188.89 L470.0,189.65 L470.5,190.15 L471.0,190.38 L471.5,190.35 L472.0,190.05 L472.5,189.50 L473.0,188.68 L473.5,187.62 L474.0,186.33 L474.5,184.81 L475.0,183.09 L475.5,181.19 L476.0,179.12 L476.5,176.90 L477.0,174.57 L477.5,172.15 L478.0,169.66 L478.5,167.13 L479.0,164.59 L479.5,162.06 L480.0,159.59 L480.5,157.18 L481.0,154.87 L481.5,152.68 L482.0,150.64 L482.5,148.76 L483.0,147.08 L483.5,145.61 L484.0,144.36 L484.5,143.34 L485.0,142.58 L485.5,142.07 L486.0,141.82 L486.5,141.84 L487.0,142.13 L487.5,142.68 L488.0,143.48 L488.5,144.53 L489.0,145.82 L489.5,147.32 L490.0,149.04 L490.5,150.94 L491.0,153.00 L491.5,155.21 L492.0,157.54 L492.5,159.96 L493.0,162.45 L493.5,164.97 L494.0,167.51 L494.5,170.04 L495.0,172.52 L495.5,174.93 L496.0,177.25 L496.5,179.44 L497.0,181.49 L497.5,183.37 L498.0,185.06 L498.5,186.54 L499.0,187.80 L499.5,188.82 L500.0,189.60 L500.5,190.12 L501.0,190.37 L501.5,190.36 L502.0,190.09 L502.5,189.55 L503.0,188.76 L503.5,187.72 L504.0,186.44 L504.5,184.94 L505.0,183.23 L505.5,181.34 L506.0,179.28 L506.5,177.08 L507.0,174.76 L507.5,172.34 L508.0,169.85 L508.5,167.33 L509.0,164.79 L509.5,162.26 L510.0,159.78 L510.5,157.36 L511.0,155.04 L511.5,152.84 L512.0,150.79 L512.5,148.90 L513.0,147.21 L513.5,145.71 L514.0,144.44 L514.5,143.41 L515.0,142.63 L515.5,142.10 L516.0,141.83 L516.5,141.83 L517.0,142.10 L517.5,142.62 L518.0,143.41 L518.5,144.44 L519.0,145.71 L519.5,147.20 L520.0,148.90 L520.5,150.78 L521.0,152.83 L521.5,155.03 L522.0,157.35 L522.5,159.77 L523.0,162.25 L523.5,164.78 L524.0,167.32 L524.5,169.84 L525.0,172.33 L525.5,174.75" stroke="#da1a2e" stroke-width="2.4" fill="none" stroke-linecap="round" stroke-linejoin="round"/>
<path d="M11.5,305.16 L12.0,308.59 L12.5,311.83 L13.0,314.86 L13.5,317.64 L14.0,320.15 L14.5,322.35 L15.0,324.23 L15.5,325.75 L16.0,326.91 L16.5,327.69 L17.0,328.08 L17.5,328.08 L18.0,327.68 L18.5,326.89 L19.0,325.72 L19.5,324.17 L20.0,322.27 L20.5,320.02 L21.0,317.47 L21.5,314.62 L22.0,311.52 L22.5,308.19 L23.0,304.67 L23.5,301.00 L24.0,297.21 L24.5,293.34 L25.0,289.45 L25.5,285.55 L26.0,281.71 L26.5,277.96 L27.0,274.34 L27.5,270.88 L28.0,267.64 L28.5,264.63 L29.0,261.90 L29.5,259.47 L30.0,257.37 L30.5,255.62 L31.0,254.25 L31.5,253.27 L32.0,252.68 L32.5,252.51 L33.0,252.74 L33.5,253.38 L34.0,254.42 L34.5,255.85 L35.0,257.66 L35.5,259.83 L36.0,262.34 L36.5,265.16 L37.0,268.26 L37.5,271.60 L38.0,275.17 L38.5,278.90 L39.0,282.78 L39.5,286.75 L40.0,290.78 L40.5,294.81 L41.0,298.82 L41.5,302.75 L42.0,306.56 L42.5,310.22 L43.0,313.68 L43.5,316.90 L44.0,319.86 L44.5,322.51 L45.0,324.84 L45.5,326.81 L46.0,328.40 L46.5,329.60 L47.0,330.39 L47.5,330.76 L48.0,330.71 L48.5,330.23 L49.0,329.34 L49.5,328.04 L50.0,326.34 L50.5,324.26 L51.0,321.82 L51.5,319.05 L52.0,315.97 L52.5,312.63 L53.0,309.04 L53.5,305.26 L54.0,301.32 L54.5,297.25 L55.0,293.12 L55.5,288.95 L56.0,284.80 L56.5,280.71 L57.0,276.71 L57.5,272.86 L58.0,269.20 L58.5,265.76 L59.0,262.59 L59.5,259.71 L60.0,257.15 L60.5,254.96 L61.0,253.14 L61.5,251.72 L62.0,250.72 L62.5,250.14 L63.0,250.00 L63.5,250.30 L64.0,251.03 L64.5,252.18 L65.0,253.75 L65.5,255.72 L66.0,258.07 L66.5,260.78 L67.0,263.81 L67.5,267.13 L68.0,270.72 L68.5,274.53 L69.0,278.52 L69.5,282.65 L70.0,286.88 L70.5,291.16 L71.0,295.45 L71.5,299.69 L72.0,303.85 L72.5,307.88 L73.0,311.74 L73.5,315.39 L74.0,318.78 L74.5,321.88 L75.0,324.66 L75.5,327.09 L76.0,329.13 L76.5,330.77 L77.0,332.00 L77.5,332.78 L78.0,333.13 L78.5,333.03 L79.0,332.47 L79.5,331.48 L80.0,330.06 L80.5,328.21 L81.0,325.97 L81.5,323.35 L82.0,320.38 L82.5,317.10 L83.0,313.53 L83.5,309.71 L84.0,305.69 L84.5,301.51 L85.0,297.21 L85.5,292.83 L86.0,288.43 L86.5,284.05 L87.0,279.73 L87.5,275.53 L88.0,271.49 L88.5,267.64 L89.0,264.04 L89.5,260.73 L90.0,257.72 L90.5,255.07 L91.0,252.80 L91.5,250.92 L92.0,249.48 L92.5,248.47 L93.0,247.91 L93.5,247.81 L94.0,248.17 L94.5,248.99 L95.0,250.25 L95.5,251.96 L96.0,254.07 L96.5,256.59 L97.0,259.47 L97.5,262.70 L98.0,266.23 L98.5,270.03 L99.0,274.06 L99.5,278.28 L100.0,282.63 L100.5,287.09 L101.0,291.59 L101.5,296.09 L102.0,300.54 L102.5,304.90 L103.0,309.12 L103.5,313.15 L104.0,316.95 L104.5,320.48 L105.0,323.70 L105.5,326.58 L106.0,329.08 L106.5,331.18 L107.0,332.86 L107.5,334.09 L108.0,334.87 L108.5,335.18 L109.0,335.02 L109.5,334.39 L110.0,333.30 L110.5,331.76 L111.0,329.78 L111.5,327.39 L112.0,324.61 L112.5,321.46 L113.0,317.99 L113.5,314.22 L114.0,310.20 L114.5,305.98 L115.0,301.58 L115.5,297.07 L116.0,292.49 L116.5,287.89 L117.0,283.31 L117.5,278.81 L118.0,274.43 L118.5,270.22 L119.0,266.23 L119.5,262.50 L120.0,259.07 L120.5,255.97 L121.0,253.24 L121.5,250.91 L122.0,249.00 L122.5,247.54 L123.0,246.54 L123.5,246.01 L124.0,245.95 L124.5,246.38 L125.0,247.28 L125.5,248.65 L126.0,250.47 L126.5,252.73 L127.0,255.39 L127.5,258.44 L128.0,261.84 L128.5,265.55 L129.0,269.54 L129.5,273.76 L130.0,278.16 L130.5,282.71 L131.0,287.36 L131.5,292.05 L132.0,296.73 L132.5,301.36 L133.0,305.88 L133.5,310.25 L134.0,314.42 L134.5,318.34 L135.0,321.98 L135.5,325.29 L136.0,328.24 L136.5,330.80 L137.0,332.94 L137.5,334.64 L138.0,335.87 L138.5,336.62 L139.0,336.89 L139.5,336.68 L140.0,335.97 L140.5,334.79 L141.0,333.14 L141.5,331.04 L142.0,328.51 L142.5,325.58 L143.0,322.28 L143.5,318.64 L144.0,314.71 L144.5,310.52 L145.0,306.11 L145.5,301.54 L146.0,296.86 L146.5,292.10 L147.0,287.33 L147.5,282.59 L148.0,277.94 L148.5,273.43 L149.0,269.09 L149.5,264.98 L150.0,261.15 L150.5,257.63 L151.0,254.46 L151.5,251.68 L152.0,249.31 L152.5,247.39 L153.0,245.92 L153.5,244.94 L154.0,244.44 L154.5,244.44 L155.0,244.94 L155.5,245.92 L156.0,247.39 L156.5,249.32 L157.0,251.69 L157.5,254.49 L158.0,257.68 L158.5,261.22 L159.0,265.09 L159.5,269.23 L160.0,273.61 L160.5,278.18 L161.0,282.89 L161.5,287.69 L162.0,292.53 L162.5,297.36 L163.0,302.12 L163.5,306.77 L164.0,311.26 L164.5,315.53 L165.0,319.55 L165.5,323.27 L166.0,326.64 L166.5,329.64 L167.0,332.24 L167.5,334.39 L168.0,336.09 L168.5,337.31 L169.0,338.03 L169.5,338.26 L170.0,337.98 L170.5,337.20 L171.0,335.94 L171.5,334.19 L172.0,331.98 L172.5,329.33 L173.0,326.28 L173.5,322.84 L174.0,319.07 L174.5,314.99 L175.0,310.65 L175.5,306.11 L176.0,301.39 L176.5,296.57 L177.0,291.68 L177.5,286.78 L178.0,281.92 L178.5,277.15 L179.0,272.53 L179.5,268.10 L180.0,263.91 L180.5,260.01 L181.0,256.43 L181.5,253.22 L182.0,250.41 L182.5,248.02 L183.0,246.10 L183.5,244.65 L184.0,243.69 L184.5,243.23 L185.0,243.29 L185.5,243.85 L186.0,244.91 L186.5,246.46 L187.0,248.49 L187.5,250.97 L188.0,253.88 L188.5,257.18 L189.0,260.85 L189.5,264.84 L190.0,269.11 L190.5,273.62 L191.0,278.32 L191.5,283.15 L192.0,288.07 L192.5,293.02 L193.0,297.96 L193.5,302.82 L194.0,307.56 L194.5,312.13 L195.0,316.48 L195.5,320.56 L196.0,324.32 L196.5,327.74 L197.0,330.76 L197.5,333.37 L198.0,335.52 L198.5,337.20 L199.0,338.39 L199.5,339.08 L200.0,339.26 L200.5,338.92 L201.0,338.08 L201.5,336.73 L202.0,334.90 L202.5,332.59 L203.0,329.85 L203.5,326.69 L204.0,323.14 L204.5,319.26 L205.0,315.07 L205.5,310.62 L206.0,305.96 L206.5,301.14 L207.0,296.21 L207.5,291.23 L208.0,286.23 L208.5,281.29 L209.0,276.45 L209.5,271.76 L210.0,267.27 L210.5,263.03 L211.0,259.09 L211.5,255.48 L212.0,252.25 L212.5,249.43 L213.0,247.05 L213.5,245.14 L214.0,243.72 L214.5,242.80 L215.0,242.39 L215.5,242.50 L216.0,243.12 L216.5,244.25 L217.0,245.88 L217.5,247.99 L218.0,250.56 L218.5,253.56 L219.0,256.96 L219.5,260.73 L220.0,264.81 L220.5,269.18 L221.0,273.78 L221.5,278.57 L222.0,283.49 L222.5,288.49 L223.0,293.52 L223.5,298.53 L224.0,303.45 L224.5,308.25 L225.0,312.86 L225.5,317.25 L226.0,321.35 L226.5,325.14 L227.0,328.56 L227.5,331.59 L228.0,334.18 L228.5,336.32 L229.0,337.97 L229.5,339.12 L230.0,339.77 L230.5,339.89 L231.0,339.50 L231.5,338.59 L232.0,337.17 L232.5,335.26 L233.0,332.88 L233.5,330.06 L234.0,326.81 L234.5,323.19 L235.0,319.22 L235.5,314.95 L236.0,310.43 L236.5,305.69 L237.0,300.80 L237.5,295.81 L238.0,290.76 L238.5,285.71 L239.0,280.72 L239.5,275.84 L240.0,271.12 L240.5,266.60 L241.0,262.35 L241.5,258.40 L242.0,254.79 L242.5,251.57 L243.0,248.77 L243.5,246.42 L244.0,244.54 L244.5,243.15 L245.0,242.27 L245.5,241.91 L246.0,242.08 L246.5,242.76 L247.0,243.96 L247.5,245.65 L248.0,247.83 L248.5,250.47 L249.0,253.54 L249.5,257.01 L250.0,260.84 L250.5,264.99 L251.0,269.42 L251.5,274.08 L252.0,278.92 L252.5,283.89 L253.0,288.94 L253.5,294.01 L254.0,299.05 L254.5,304.00 L255.0,308.81 L255.5,313.44 L256.0,317.82 L256.5,321.93 L257.0,325.70 L257.5,329.11 L258.0,332.11 L258.5,334.67 L259.0,336.77 L259.5,338.38 L260.0,339.49 L260.5,340.08 L261.0,340.15 L261.5,339.70 L262.0,338.73 L262.5,337.26 L263.0,335.29 L263.5,332.85 L264.0,329.96 L264.5,326.66 L265.0,322.98 L265.5,318.96 L266.0,314.65 L266.5,310.08 L267.0,305.31 L267.5,300.38 L268.0,295.36 L268.5,290.29 L269.0,285.23 L269.5,280.23 L270.0,275.34 L270.5,270.62 L271.0,266.12 L271.5,261.88 L272.0,257.95 L272.5,254.38 L273.0,251.19 L273.5,248.42 L274.0,246.11 L274.5,244.28 L275.0,242.94 L275.5,242.12 L276.0,241.81 L276.5,242.03 L277.0,242.77 L277.5,244.02 L278.0,245.77 L278.5,248.00 L279.0,250.69 L279.5,253.81 L280.0,257.32 L280.5,261.19 L281.0,265.38 L281.5,269.84 L282.0,274.52 L282.5,279.38 L283.0,284.36 L283.5,289.41 L284.0,294.48 L284.5,299.51 L285.0,304.45 L285.5,309.24 L286.0,313.84 L286.5,318.20 L287.0,322.26 L287.5,326.00 L288.0,329.36 L288.5,332.31 L289.0,334.83 L289.5,336.87 L290.0,338.43 L290.5,339.48 L291.0,340.02 L291.5,340.04 L292.0,339.53 L292.5,338.51 L293.0,336.99 L293.5,334.97 L294.0,332.49 L294.5,329.57 L295.0,326.24 L295.5,322.53 L296.0,318.49 L296.5,314.16 L297.0,309.58 L297.5,304.81 L298.0,299.89 L298.5,294.88 L299.0,289.82 L299.5,284.78 L300.0,279.81 L300.5,274.96 L301.0,270.28 L301.5,265.82 L302.0,261.64 L302.5,257.76 L303.0,254.24 L303.5,251.11 L304.0,248.41 L304.5,246.16 L305.0,244.38 L305.5,243.11 L306.0,242.34 L306.5,242.09 L307.0,242.36 L307.5,243.15 L308.0,244.44 L308.5,246.23 L309.0,248.50 L309.5,251.22 L310.0,254.36 L310.5,257.89 L311.0,261.77 L311.5,265.95 L312.0,270.41 L312.5,275.08 L313.0,279.92 L313.5,284.87 L314.0,289.89 L314.5,294.92 L315.0,299.90 L315.5,304.79 L316.0,309.53 L316.5,314.07 L317.0,318.36 L317.5,322.36 L318.0,326.03 L318.5,329.32 L319.0,332.20 L319.5,334.65 L320.0,336.62 L320.5,338.12 L321.0,339.11 L321.5,339.59 L322.0,339.55 L322.5,339.00 L323.0,337.93 L323.5,336.37 L324.0,334.33 L324.5,331.82 L325.0,328.89 L325.5,325.55 L326.0,321.84 L326.5,317.81 L327.0,313.50 L327.5,308.95 L328.0,304.21 L328.5,299.33 L329.0,294.37 L329.5,289.37 L330.0,284.40 L330.5,279.49 L331.0,274.71 L331.5,270.11 L332.0,265.73 L332.5,261.62 L333.0,257.83 L333.5,254.39 L334.0,251.34 L334.5,248.72 L335.0,246.54 L335.5,244.84 L336.0,243.63 L336.5,242.93 L337.0,242.74 L337.5,243.06 L338.0,243.89 L338.5,245.22 L339.0,247.04 L339.5,249.32 L340.0,252.04 L340.5,255.18 L341.0,258.70 L341.5,262.55 L342.0,266.71 L342.5,271.13 L343.0,275.75 L343.5,280.53 L344.0,285.42 L344.5,290.36 L345.0,295.31 L345.5,300.21 L346.0,305.01 L346.5,309.66 L347.0,314.11 L347.5,318.31 L348.0,322.21 L348.5,325.78 L349.0,328.98 L349.5,331.77 L350.0,334.13 L350.5,336.02 L351.0,337.44 L351.5,338.36 L352.0,338.78 L352.5,338.69 L353.0,338.09 L353.5,337.00 L354.0,335.41 L354.5,333.35 L355.0,330.85 L355.5,327.92 L356.0,324.60 L356.5,320.93 L357.0,316.94 L357.5,312.68 L358.0,308.19 L358.5,303.53 L359.0,298.73 L359.5,293.85 L360.0,288.95 L360.5,284.07 L361.0,279.27 L361.5,274.60 L362.0,270.11 L362.5,265.84 L363.0,261.84 L363.5,258.16 L364.0,254.83 L364.5,251.88 L365.0,249.36 L365.5,247.28 L366.0,245.66 L366.5,244.53 L367.0,243.89 L367.5,243.76 L368.0,244.12 L368.5,244.99 L369.0,246.34 L369.5,248.17 L370.0,250.45 L370.5,253.16 L371.0,256.27 L371.5,259.74 L372.0,263.55 L372.5,267.64 L373.0,271.98 L373.5,276.52 L374.0,281.20 L374.5,285.99 L375.0,290.83 L375.5,295.66 L376.0,300.44 L376.5,305.12 L377.0,309.64 L377.5,313.96 L378.0,318.03 L378.5,321.81 L379.0,325.25 L379.5,328.34 L380.0,331.02 L380.5,333.27 L381.0,335.07 L381.5,336.40 L382.0,337.25 L382.5,337.61 L383.0,337.47 L383.5,336.83 L384.0,335.71 L384.5,334.12 L385.0,332.07 L385.5,329.58 L386.0,326.69 L386.5,323.42 L387.0,319.81 L387.5,315.89 L388.0,311.72 L388.5,307.33 L389.0,302.77 L389.5,298.09 L390.0,293.33 L390.5,288.56 L391.0,283.82 L391.5,279.16 L392.0,274.64 L392.5,270.29 L393.0,266.16 L393.5,262.31 L394.0,258.76 L394.5,255.56 L395.0,252.74 L395.5,250.33 L396.0,248.35 L396.5,246.83 L397.0,245.78 L397.5,245.21 L398.0,245.13 L398.5,245.54 L399.0,246.43 L399.5,247.79 L400.0,249.61 L400.5,251.87 L401.0,254.54 L401.5,257.60 L402.0,261.01 L402.5,264.73 L403.0,268.73 L403.5,272.96 L404.0,277.38 L404.5,281.93 L405.0,286.58 L405.5,291.27 L406.0,295.95 L406.5,300.57 L407.0,305.09 L407.5,309.45 L408.0,313.61 L408.5,317.52 L409.0,321.15 L409.5,324.45 L410.0,327.39 L410.5,329.95 L411.0,332.08 L411.5,333.78 L412.0,335.02 L412.5,335.79 L413.0,336.08 L413.5,335.89 L414.0,335.23 L414.5,334.10 L415.0,332.51 L415.5,330.48 L416.0,328.03 L416.5,325.20 L417.0,322.00 L417.5,318.48 L418.0,314.67 L418.5,310.62 L419.0,306.36 L419.5,301.94 L420.0,297.42 L420.5,292.83 L421.0,288.22 L421.5,283.66 L422.0,279.17 L422.5,274.82 L423.0,270.65 L423.5,266.70 L424.0,263.01 L424.5,259.62 L425.0,256.58 L425.5,253.90 L426.0,251.62 L426.5,249.76 L427.0,248.35 L427.5,247.38 L428.0,246.89 L428.5,246.86 L429.0,247.30 L429.5,248.21 L430.0,249.57 L430.5,251.36 L431.0,253.58 L431.5,256.19 L432.0,259.17 L432.5,262.48 L433.0,266.09 L433.5,269.96 L434.0,274.05 L434.5,278.31 L435.0,282.70 L435.5,287.17 L436.0,291.68 L436.5,296.17 L437.0,300.60 L437.5,304.92 L438.0,309.09 L438.5,313.06 L439.0,316.79 L439.5,320.24 L440.0,323.37 L440.5,326.15 L441.0,328.56 L441.5,330.56 L442.0,332.14 L442.5,333.28 L443.0,333.97 L443.5,334.21 L444.0,333.98 L444.5,333.29 L445.0,332.16 L445.5,330.59 L446.0,328.61 L446.5,326.22 L447.0,323.47 L447.5,320.38 L448.0,316.97 L448.5,313.30 L449.0,309.40 L449.5,305.31 L450.0,301.07 L450.5,296.73 L451.0,292.34 L451.5,287.94 L452.0,283.58 L452.5,279.31 L453.0,275.16 L453.5,271.20 L454.0,267.45 L454.5,263.95 L455.0,260.75 L455.5,257.88 L456.0,255.36 L456.5,253.23 L457.0,251.50 L457.5,250.20 L458.0,249.33 L458.5,248.90 L459.0,248.92 L459.5,249.39 L460.0,250.30 L460.5,251.64 L461.0,253.40 L461.5,255.56 L462.0,258.08 L462.5,260.96 L463.0,264.14 L463.5,267.61 L464.0,271.32 L464.5,275.23 L465.0,279.30 L465.5,283.49 L466.0,287.75 L466.5,292.04 L467.0,296.31 L467.5,300.52 L468.0,304.61 L468.5,308.56 L469.0,312.31 L469.5,315.82 L470.0,319.07 L470.5,322.01 L471.0,324.62 L471.5,326.87 L472.0,328.73 L472.5,330.19 L473.0,331.22 L473.5,331.83 L474.0,332.00 L474.5,331.74 L475.0,331.04 L475.5,329.92 L476.0,328.39 L476.5,326.47 L477.0,324.17 L477.5,321.52 L478.0,318.55 L478.5,315.30 L479.0,311.80 L479.5,308.08 L480.0,304.18 L480.5,300.16 L481.0,296.04 L481.5,291.88 L482.0,287.72 L482.5,283.60 L483.0,279.57 L483.5,275.66 L484.0,271.93 L484.5,268.41 L485.0,265.14 L485.5,262.14 L486.0,259.46 L486.5,257.12 L487.0,255.15 L487.5,253.56 L488.0,252.37 L488.5,251.59 L489.0,251.24 L489.5,251.30 L490.0,251.79 L490.5,252.70 L491.0,254.01 L491.5,255.71 L492.0,257.78 L492.5,260.20 L493.0,262.94 L493.5,265.98 L494.0,269.27 L494.5,272.79 L495.0,276.49 L495.5,280.34 L496.0,284.30 L496.5,288.32 L497.0,292.35 L497.5,296.37 L498.0,300.32 L498.5,304.16 L499.0,307.85 L499.5,311.36 L500.0,314.64 L500.5,317.66 L501.0,320.39 L501.5,322.81 L502.0,324.88 L502.5,326.59 L503.0,327.91 L503.5,328.84 L504.0,329.37 L504.5,329.49 L505.0,329.19 L505.5,328.50 L506.0,327.40 L506.5,325.92 L507.0,324.08 L507.5,321.88 L508.0,319.37 L508.5,316.56 L509.0,313.48 L509.5,310.17 L510.0,306.66 L510.5,303.00 L511.0,299.22 L511.5,295.36 L512.0,291.46 L512.5,287.57 L513.0,283.72 L513.5,279.96 L514.0,276.33 L514.5,272.86 L515.0,269.59 L515.5,266.55 L516.0,263.79 L516.5,261.32 L517.0,259.17 L517.5,257.36 L518.0,255.92 L518.5,254.85 L519.0,254.17 L519.5,253.88 L520.0,253.99 L520.5,254.49 L521.0,255.37 L521.5,256.64 L522.0,258.26 L522.5,260.23 L523.0,262.52 L523.5,265.11 L524.0,267.96 L524.5,271.06 L525.0,274.35 L525.5,277.82 L526.0,281.42" stroke="#8257ae" stroke-width="2.3" fill="none" stroke-linecap="round" stroke-linejoin="round"/>
</svg>
<div class="t tl" style="left:23.80px">-0.03</div><div class="t tl" style="left:100.80px">-0.02</div><div class="t tl" style="left:178.10px">-0.01</div><div class="t tl" style="left:260.60px">0.00</div><div class="t tl" style="left:335.50px">0.01</div><div class="t tl" style="left:415.20px">0.02</div><div class="t tl" style="left:490.30px">0.03</div>
<div class="t" id="tis" style="left:235px;top:395px;font-size:16px;line-height:18px;transform:scaleX(0.74)">Time in seconds</div>

<div class="inp" style="top:34px"></div>
<div class="hz" style="top:34px"></div>
<div class="trk" style="top:82px"><div class="fill" style="width:114px;background:#3f62c8"></div><div class="thumb" style="left:114px"></div></div>
<div class="inp" style="top:134px"></div>
<div class="hz" style="top:134px"></div>
<div class="trk" style="top:180px"><div class="fill" style="width:95px;background:#da2222"></div><div class="thumb" style="left:95px"></div></div>
<div class="trk" style="top:239px"><div class="fill" style="width:10px;background:#22c896"></div><div class="thumb" style="left:10px"></div></div>
<div class="cb" style="top:308px"></div>
<div class="cb" style="top:379px"></div>

<div class="t" id="f1" style="left:560px;top:4.5px;font-size:22px;line-height:24px;transform:scaleX(0.9)">F</div>
<div class="t" id="s1" style="left:572px;top:20px;font-size:14px;line-height:14px">1</div>
<div class="t" id="f2" style="left:560px;top:106.5px;font-size:22px;line-height:24px;transform:scaleX(0.9)">F</div>
<div class="t" id="s2" style="left:572px;top:122px;font-size:14px;line-height:14px">2</div>
<div class="t" id="v1" style="left:643px;top:33px;font-size:23.5px;line-height:26px;transform:scaleX(0.97)">250.0</div>
<div class="t" id="v2" style="left:643px;top:133px;font-size:23.5px;line-height:26px;transform:scaleX(0.97)">257.0</div>
<div class="t" id="h1" style="left:714.5px;top:33px;font-size:23.5px;line-height:26px;">Hz</div>
<div class="t" id="h2" style="left:714.5px;top:133px;font-size:23.5px;line-height:26px;">Hz</div>
<div class="t" id="zm" style="left:729px;top:225px;font-size:16px;line-height:18px;transform:scaleX(1.03)">zoom</div>
<div class="t" id="ov" style="left:562.5px;top:281px;font-size:13.4px;line-height:16px;">Overlay waves.</div>
<div class="t" id="so" style="left:562.5px;top:347.5px;font-size:14px;line-height:16px;transform:scaleX(1.04)">Sound on/off</div>
</div></body></html>
